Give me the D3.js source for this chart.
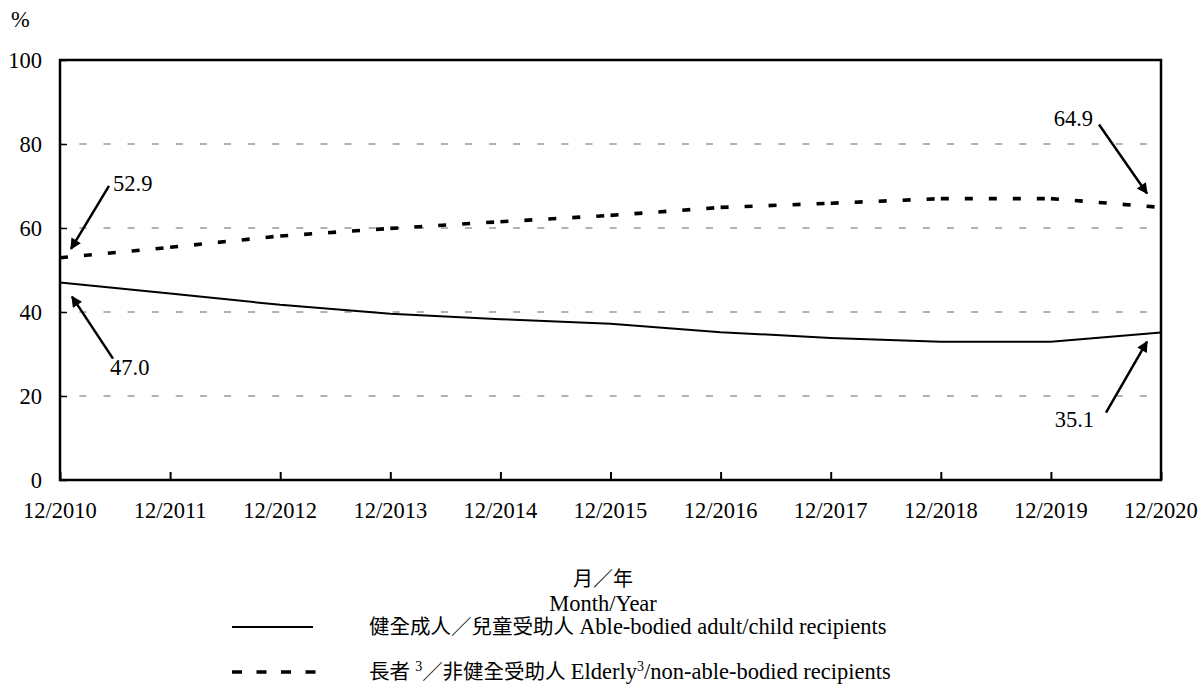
<!DOCTYPE html>
<html>
<head>
<meta charset="utf-8">
<script src="https://cdn.jsdelivr.net/npm/d3@7"></script>
<style>
  html, body { margin: 0; padding: 0; background: #fff; }
  svg { display: block; }
  text { font-family: "Liberation Serif", "Times New Roman", "Noto Sans CJK TC", serif; fill: #000; }
</style>
</head>
<body>
<svg id="chart" width="1203" height="685"></svg>
<script>
// Months (December of each year)
const categories = ["12/2010", "12/2011", "12/2012", "12/2013", "12/2014", "12/2015",
                    "12/2016", "12/2017", "12/2018", "12/2019", "12/2020"];

// Share of recipients (%)
const ableBodied = [47.0, 44.4, 41.7, 39.6, 38.3, 37.2, 35.2, 33.8, 32.9, 32.9, 35.1];
const elderly    = [52.9, 55.4, 58.1, 59.9, 61.5, 63.0, 64.9, 65.9, 67.0, 67.0, 64.9];

const yTicks = [0, 20, 40, 60, 80, 100];

// Callouts on the first and last values of each series
const callouts = [
  { series: elderly,    index: 0,  tip: [11, -9],   tail: [49, -72],  text: [53, -67],  anchor: "start" },
  { series: ableBodied, index: 0,  tip: [12, 14],   tail: [53, 76],   text: [50, 92],   anchor: "start" },
  { series: elderly,    index: 10, tip: [-14, -14], tail: [-62, -83], text: [-68, -81], anchor: "end" },
  { series: ableBodied, index: 10, tip: [-14, 9],   tail: [-55, 80],  text: [-67, 94],  anchor: "end" }
];

const svg = d3.select("#chart");
const plotLeft = 60, plotRight = 1161, plotTop = 60, plotBottom = 480;
const fs = "22.5px";

const x = d3.scalePoint().domain(categories).range([plotLeft, plotRight]);
const y = d3.scaleLinear().domain([0, 100]).range([plotBottom, plotTop]);

const defs = svg.append("defs");
defs.append("marker")
  .attr("id", "arrowhead")
  .attr("viewBox", "0 0 10 10")
  .attr("refX", 9).attr("refY", 5)
  .attr("markerUnits", "userSpaceOnUse")
  .attr("markerWidth", 13).attr("markerHeight", 11)
  .attr("orient", "auto")
  .append("path").attr("d", "M0,0 L10,5 L0,10 Z").attr("fill", "#000");

// Horizontal dashed gridlines
svg.append("g").selectAll("line")
  .data(yTicks.filter(t => t > 0 && t < 100))
  .join("line")
  .attr("x1", plotLeft).attr("x2", plotRight)
  .attr("y1", d => y(d)).attr("y2", d => y(d))
  .attr("stroke", "#666")
  .attr("stroke-width", 1.2)
  .attr("stroke-dasharray", "7,17.1")
  .attr("stroke-dashoffset", 4.7);

// Y axis with inward ticks
const yAxis = svg.append("g")
  .attr("transform", `translate(${plotLeft},0)`)
  .call(d3.axisRight(y).tickValues(yTicks).tickSize(7).tickFormat(""));
yAxis.select(".domain").remove();
yAxis.selectAll(".tick line").attr("stroke", "#000").attr("stroke-width", 1.5);

svg.append("g").selectAll("text")
  .data(yTicks)
  .join("text")
  .attr("x", 42)
  .attr("y", d => y(d))
  .attr("dy", "0.34em")
  .attr("text-anchor", "end")
  .style("font-size", fs)
  .text(d => d);

// X axis with inward ticks
const xAxis = svg.append("g")
  .attr("transform", `translate(0,${plotBottom})`)
  .call(d3.axisTop(x).tickSize(8).tickFormat(""));
xAxis.select(".domain").remove();
xAxis.selectAll(".tick line").attr("stroke", "#000").attr("stroke-width", 2);

svg.append("g").selectAll("text")
  .data(categories)
  .join("text")
  .attr("x", d => x(d))
  .attr("y", 518)
  .attr("text-anchor", "middle")
  .style("font-size", fs)
  .text(d => d);

// Plot frame
svg.append("rect")
  .attr("x", plotLeft).attr("y", plotTop)
  .attr("width", plotRight - plotLeft).attr("height", plotBottom - plotTop)
  .attr("fill", "none").attr("stroke", "#000").attr("stroke-width", 2.5);

const line = d3.line().x(d => x(d.c)).y(d => y(d.v));
const toPts = arr => arr.map((v, i) => ({ c: categories[i], v }));

// Able-bodied series: solid line
svg.append("path")
  .datum(toPts(ableBodied))
  .attr("d", line)
  .attr("fill", "none")
  .attr("stroke", "#000")
  .attr("stroke-width", 2);

// Elderly series: each yearly segment carries its own dash pattern
svg.append("g").selectAll("path")
  .data(d3.pairs(toPts(elderly)))
  .join("path")
  .attr("d", d => line(d))
  .attr("fill", "none")
  .attr("stroke", "#000")
  .attr("stroke-width", 3.6)
  .attr("stroke-dasharray", "8,16");

// Callout arrows and labels
const cg = svg.append("g");
callouts.forEach(c => {
  const px = x(categories[c.index]), py = y(c.series[c.index]);
  cg.append("line")
    .attr("x1", px + c.tail[0]).attr("y1", py + c.tail[1])
    .attr("x2", px + c.tip[0]).attr("y2", py + c.tip[1])
    .attr("stroke", "#000").attr("stroke-width", 2.5)
    .attr("marker-end", "url(#arrowhead)");
  cg.append("text")
    .attr("x", px + c.text[0]).attr("y", py + c.text[1])
    .attr("text-anchor", c.anchor)
    .style("font-size", fs)
    .text(c.series[c.index].toFixed(1));
});

// Unit label
svg.append("text").attr("x", 11).attr("y", 27).style("font-size", fs).text("%");

// Axis title
svg.append("text").attr("x", 603).attr("y", 586).attr("text-anchor", "middle")
  .style("font-size", "20px").text("月／年");
svg.append("text").attr("x", 603).attr("y", 611).attr("text-anchor", "middle")
  .style("font-size", fs).text("Month/Year");

// Legend
const legend = svg.append("g");
legend.append("line")
  .attr("x1", 232).attr("x2", 313).attr("y1", 627).attr("y2", 627)
  .attr("stroke", "#000").attr("stroke-width", 2);
legend.append("line")
  .attr("x1", 232).attr("x2", 316).attr("y1", 672).attr("y2", 672)
  .attr("stroke", "#000").attr("stroke-width", 3.6)
  .attr("stroke-dasharray", "10,14.5");

const t1 = legend.append("text").attr("x", 369).attr("y", 634).style("font-size", fs);
t1.append("tspan").style("font-size", "20.5px").text("健全成人／兒童受助人 ");
t1.append("tspan").text("Able-bodied adult/child recipients");

const t2 = legend.append("text").attr("x", 369).attr("y", 679).style("font-size", fs);
t2.append("tspan").style("font-size", "20.5px").text("長者 ");
t2.append("tspan").attr("dy", -8).style("font-size", "14px").text("3");
t2.append("tspan").attr("dy", 8).style("font-size", "20.5px").text("／非健全受助人 ");
t2.append("tspan").text("Elderly");
t2.append("tspan").attr("dy", -8).style("font-size", "14px").text("3");
t2.append("tspan").attr("dy", 8).text("/non-able-bodied recipients");
</script>
</body>
</html>
